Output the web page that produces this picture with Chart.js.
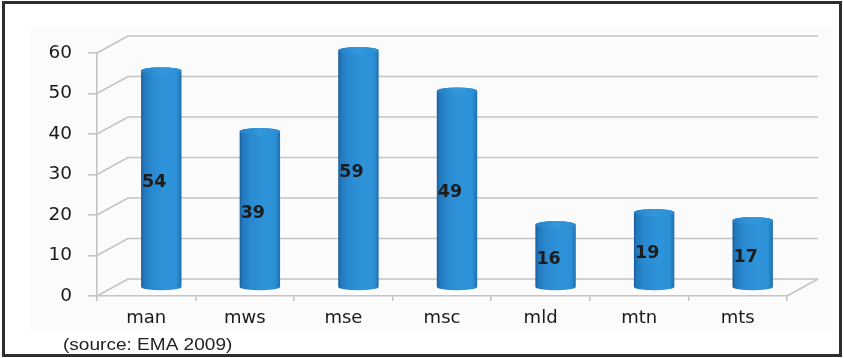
<!DOCTYPE html>
<html>
<head>
<meta charset="utf-8">
<script src="https://cdn.jsdelivr.net/npm/chart.js@4/dist/chart.umd.min.js"></script>
<style>
  html, body { margin: 0; padding: 0; background: #ffffff; }
  canvas { display: block; }
</style>
</head>
<body>
<canvas id="chart" width="844" height="358"></canvas>
<script>
// Categories and values
const categories = ['man', 'mws', 'mse', 'msc', 'mld', 'mtn', 'mts'];
const values = [54, 39, 59, 49, 16, 19, 17];
const yTicks = [0, 10, 20, 30, 40, 50, 60];
const sourceNote = '(source: EMA 2009)';

// Pseudo-3D depth: back wall offset and bar depth offset (pixels)
const DEPTH_X = 31, DEPTH_Y = -17;
const BAR_X = 15, BAR_Y = -8.5;

const backdrop = {
  id: 'backdrop',
  beforeDraw(chart) {
    const ctx = chart.ctx;
    ctx.save();
    ctx.fillStyle = '#ffffff';
    ctx.fillRect(0, 0, chart.width, chart.height);
    ctx.fillStyle = '#fbfbfb';
    ctx.fillRect(30, 27, 802, 305);
    ctx.restore();
  },
  beforeDatasetsDraw(chart) {
    const ctx = chart.ctx;
    const y = chart.scales.y;
    const area = chart.chartArea;
    ctx.save();
    ctx.strokeStyle = '#c4c4c4';
    ctx.lineWidth = 1.6;
    yTicks.forEach(v => {
      const py = y.getPixelForValue(v);
      ctx.beginPath();
      ctx.moveTo(area.left, py);
      ctx.lineTo(area.left + DEPTH_X, py + DEPTH_Y);
      ctx.lineTo(area.right + DEPTH_X, py + DEPTH_Y);
      ctx.stroke();
    });
    // right edge of the floor
    const p0 = y.getPixelForValue(0);
    ctx.beginPath();
    ctx.moveTo(area.right, p0);
    ctx.lineTo(area.right + DEPTH_X, p0 + DEPTH_Y);
    ctx.stroke();
    ctx.restore();
  },
  afterDatasetsDraw(chart) {
    const ctx = chart.ctx;
    const meta = chart.getDatasetMeta(0);
    ctx.save();
    meta.data.forEach((bar, i) => {
      const p = bar.getProps(['x', 'y', 'base', 'width'], true);
      const cx = p.x + BAR_X;
      const rx = p.width / 2;
      const ry = 3.6;
      const left = cx - rx, right = cx + rx;
      const yTop = p.y + BAR_Y + 2;
      const yBot = p.base + BAR_Y;

      const g = ctx.createLinearGradient(left, 0, right, 0);
      g.addColorStop(0, '#1b5d97');
      g.addColorStop(0.07, '#2278bd');
      g.addColorStop(0.25, '#2a88cf');
      g.addColorStop(0.6, '#2e94da');
      g.addColorStop(0.88, '#2c90d6');
      g.addColorStop(1, '#206fb0');

      ctx.beginPath();
      ctx.moveTo(left, yTop);
      ctx.lineTo(left, yBot);
      ctx.ellipse(cx, yBot, rx, ry, 0, Math.PI, 0, true);
      ctx.lineTo(right, yTop);
      ctx.ellipse(cx, yTop, rx, ry, 0, 0, Math.PI, true);
      ctx.closePath();
      ctx.fillStyle = g;
      ctx.fill();

      const gt = ctx.createLinearGradient(left, 0, right, 0);
      gt.addColorStop(0, '#2680c6');
      gt.addColorStop(0.5, '#3398dc');
      gt.addColorStop(1, '#2c8dd2');
      ctx.beginPath();
      ctx.ellipse(cx, yTop, rx, ry, 0, 0, Math.PI * 2);
      ctx.fillStyle = gt;
      ctx.fill();

      // value label
      ctx.fillStyle = '#1c1c1c';
      ctx.font = 'bold 17.5px "DejaVu Sans"';
      ctx.textAlign = 'center';
      ctx.textBaseline = 'middle';
      ctx.fillText(String(values[i]), cx - 7, (yTop + yBot) / 2 + 4);
    });
    ctx.restore();
  },
  afterDraw(chart) {
    const ctx = chart.ctx;
    ctx.save();
    // source note
    ctx.fillStyle = '#222222';
    ctx.font = '16px "Liberation Sans", Arial, sans-serif';
    ctx.textAlign = 'left';
    ctx.textBaseline = 'alphabetic';
    ctx.translate(63, 350);
    ctx.scale(1.19, 1);
    ctx.fillText(sourceNote, 0, 0);
    ctx.restore();
    // frame
    ctx.save();
    ctx.strokeStyle = '#2e2e2e';
    ctx.lineWidth = 3;
    ctx.strokeRect(3.5, 2.5, 837, 353);
    ctx.restore();
  }
};

new Chart(document.getElementById('chart'), {
  type: 'bar',
  data: {
    labels: categories,
    datasets: [{
      data: values,
      backgroundColor: 'rgba(0,0,0,0)',
      borderWidth: 0,
      barPercentage: 0.41,
      categoryPercentage: 1
    }]
  },
  options: {
    responsive: false,
    devicePixelRatio: 1,
    animation: false,
    layout: { padding: { top: 53, right: 57, left: 0, bottom: 0 } },
    plugins: { legend: { display: false }, tooltip: { enabled: false } },
    scales: {
      y: {
        min: 0,
        max: 60,
        afterFit(scale) { scale.width = 97; },
        ticks: {
          stepSize: 10,
          padding: 16,
          color: '#1a1a1a',
          font: { family: '"DejaVu Sans"', size: 18.5 }
        },
        grid: {
          drawOnChartArea: false,
          drawTicks: true,
          tickLength: 9,
          color: '#c4c4c4',
          lineWidth: 1.6
        },
        border: { display: true, color: '#c4c4c4', width: 1.6 }
      },
      x: {
        afterFit(scale) { scale.height = 62; },
        ticks: {
          padding: 7,
          color: '#1a1a1a',
          font: { family: '"DejaVu Sans"', size: 18 }
        },
        grid: {
          offset: true,
          drawOnChartArea: false,
          drawTicks: true,
          tickLength: 5,
          color: '#c4c4c4',
          lineWidth: 1.6
        },
        border: { display: true, color: '#c4c4c4', width: 1.6 }
      }
    }
  },
  plugins: [backdrop]
});
</script>
</body>
</html>
